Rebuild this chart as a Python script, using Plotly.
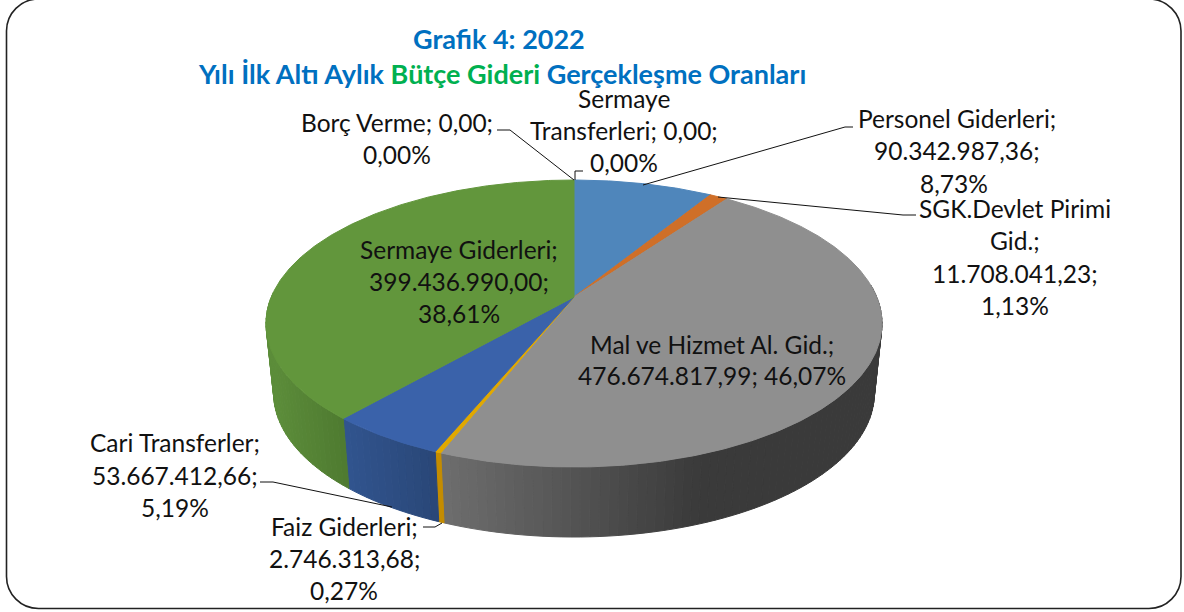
import numpy as np
import plotly.graph_objects as go

# ---- data ----
categories = ["Personel Giderleri", "SGK.Devlet Pirimi Gid.", "Mal ve Hizmet Al. Gid.", "Faiz Giderleri",
              "Cari Transferler", "Sermaye Giderleri", "Sermaye Transferleri", "Borç Verme"]
values = [90342987.36, 11708041.23, 476674817.99, 2746313.68, 53667412.66, 399436990.00, 0.00, 0.00]
top_colors = ["#4f86bb", "#cf6f28", "#8f8f8f", "#e0a800", "#3a62aa", "#62963c", "#62963c", "#62963c"]
side_left = ["#4f86bb", "#cf6f28", "#6e6e6e", "#c48c00", "#31548e", "#5c8d3a", "#64993e", "#64993e"]
side_right = ["#4f86bb", "#cf6f28", "#3a3a3a", "#c48c00", "#294676", "#4e7a30", "#64993e", "#64993e"]
side_span = [(0, 1), (0, 1), (440, 700), (0, 1), (345, 440), (270, 345), (0, 1), (0, 1)]

label_lines = [
    (["Personel Giderleri;", "90.342.987,36;", "8,73%"], [957, 957, 954], [118, 150, 183]),
    (["SGK.Devlet Pirimi", "Gid.;", "11.708.041,23;", "1,13%"], [1015] * 4, [208, 240, 273, 305]),
    (["Mal ve Hizmet Al. Gid.;", "476.674.817,99; 46,07%"], [712, 712], [344, 375]),
    (["Faiz Giderleri;", "2.746.313,68;", "0,27%"], [344] * 3, [526, 558, 590]),
    (["Cari Transferler;", "53.667.412,66;", "5,19%"], [175] * 3, [442, 475, 507]),
    (["Sermaye Giderleri;", "399.436.990,00;", "38,61%"], [459] * 3, [249, 281, 313]),
    (["Sermaye", "Transferleri; 0,00;", "0,00%"], [624] * 3, [98, 130, 162]),
    (["Borç Verme; 0,00;", "0,00%"], [397, 397], [122, 154]),
]
leaders = [
    ([643, 845, 853], [185, 127, 127]),
    ([718, 903, 916], [197, 215, 215]),
    ([442, 435, 423], [523, 527, 527]),
    ([392, 273, 260], [507, 482, 482]),
    ([575, 575, 583], [180, 171, 171]),
    ([574, 510, 497], [180, 130, 130]),
]

# ---- projection of the pie disc ----
CX, CY, X, Y, K = 574.0, 297.0, 302.7, 138.6, 0.1848
DEPTH, SX = 70.0, 0.975


def top(t):
    d = 1 + K * np.cos(t)
    return CX + X * np.sin(t) / d, CY - Y * np.cos(t) / d


def bottom(t):
    d = 1 + K * np.cos(t)
    return CX + SX * X * np.sin(t) / d, CY + DEPTH - Y * np.cos(t) / d


def mix(a, b, w):
    w = min(max(w, 0.0), 1.0)
    ca = [int(a[i:i + 2], 16) for i in (1, 3, 5)]
    cb = [int(b[i:i + 2], 16) for i in (1, 3, 5)]
    return "rgb(%d,%d,%d)" % tuple(round(p + (q - p) * w) for p, q in zip(ca, cb))


vals = np.array(values)
edges = np.concatenate([[0], np.cumsum(vals) / vals.sum()]) * 2 * np.pi
fig = go.Figure()


def poly(xs, ys, color):
    fig.add_trace(go.Scatter(x=xs, y=ys, mode="lines", fill="toself", fillcolor=color,
                             line=dict(color=color, width=1), hoverinfo="skip", showlegend=False))


# side wall strips (front half only)
step = np.radians(1.5)
for i in range(len(vals)):
    a = max(edges[i], np.radians(85))
    b = min(edges[i + 1], np.radians(272))
    if b <= a:
        continue
    n = max(1, int(np.ceil((b - a) / step)))
    ts = np.linspace(a, b, n + 1)
    for t0, t1 in zip(ts[:-1], ts[1:]):
        x0, y0 = top(t0)
        x1, y1 = top(t1)
        x2, y2 = bottom(t1)
        x3, y3 = bottom(t0)
        xm = (x0 + x1) / 2
        lo, hi = side_span[i]
        # gradient runs left to right along the wall
        col = mix(side_left[i], side_right[i], (xm - lo) / (hi - lo))
        poly([x0, x1, x2, x3, x0], [y0, y1, y2, y3, y0], col)

# top face
for i in range(len(vals)):
    if vals[i] <= 0:
        continue
    ts = np.linspace(edges[i], edges[i + 1], max(3, int((edges[i + 1] - edges[i]) / 0.01)))
    xs, ys = top(ts)
    poly(np.r_[CX, xs, CX], np.r_[CY, ys, CY], top_colors[i])

# leader lines
for lx, ly in leaders:
    fig.add_trace(go.Scatter(x=lx, y=ly, mode="lines", line=dict(color="#111111", width=1),
                             hoverinfo="skip", showlegend=False))

FONT = "Lato"
annotations = []
for lines, xs, ys in label_lines:
    for s, x, y in zip(lines, xs, ys):
        annotations.append(dict(x=x, y=y, text=s, showarrow=False, xanchor="center", yanchor="middle",
                                font=dict(family=FONT, size=24.5, color="#111111")))
BLUE, GREEN = "#0070C0", "#00B050"
annotations.append(dict(x=499, y=38, text="<b>Grafik 4: 2022</b>", showarrow=False, xanchor="center",
                        yanchor="middle", font=dict(family=FONT, size=27, color=BLUE)))
annotations.append(dict(x=502, y=73,
                        text=f"<b><span style='color:{BLUE}'>Yılı İlk Altı Aylık </span>"
                             f"<span style='color:{GREEN}'>Bütçe Gideri </span>"
                             f"<span style='color:{BLUE}'>Gerçekleşme Oranları</span></b>",
                        showarrow=False, xanchor="center", yanchor="middle",
                        font=dict(family=FONT, size=27, color=BLUE)))

L, T, R, B, r = 6.5, -1.0, 1181.0, 608.5, 32.0
c = r * 0.45
frame = (f"M{L},{T + r} C{L},{T + c} {L + c},{T} {L + r},{T} L{R - r},{T} C{R - c},{T} {R},{T + c} {R},{T + r} "
         f"L{R},{B - r} C{R},{B - c} {R - c},{B} {R - r},{B} L{L + r},{B} C{L + c},{B} {L},{B - c} {L},{B - r} Z")

fig.update_layout(
    width=1184, height=612, margin=dict(l=0, r=0, t=0, b=0),
    paper_bgcolor="white", plot_bgcolor="white", showlegend=False,
    xaxis=dict(range=[0, 1184], visible=False, fixedrange=True),
    yaxis=dict(range=[612, 0], visible=False, fixedrange=True),
    shapes=[dict(type="path", path=frame, line=dict(color="#222222", width=1.6), layer="below")],
    annotations=annotations,
)
fig.write_html("out.html", config=dict(displayModeBar=False),
               post_script="document.body.style.margin='0';document.body.style.overflow='hidden';")
